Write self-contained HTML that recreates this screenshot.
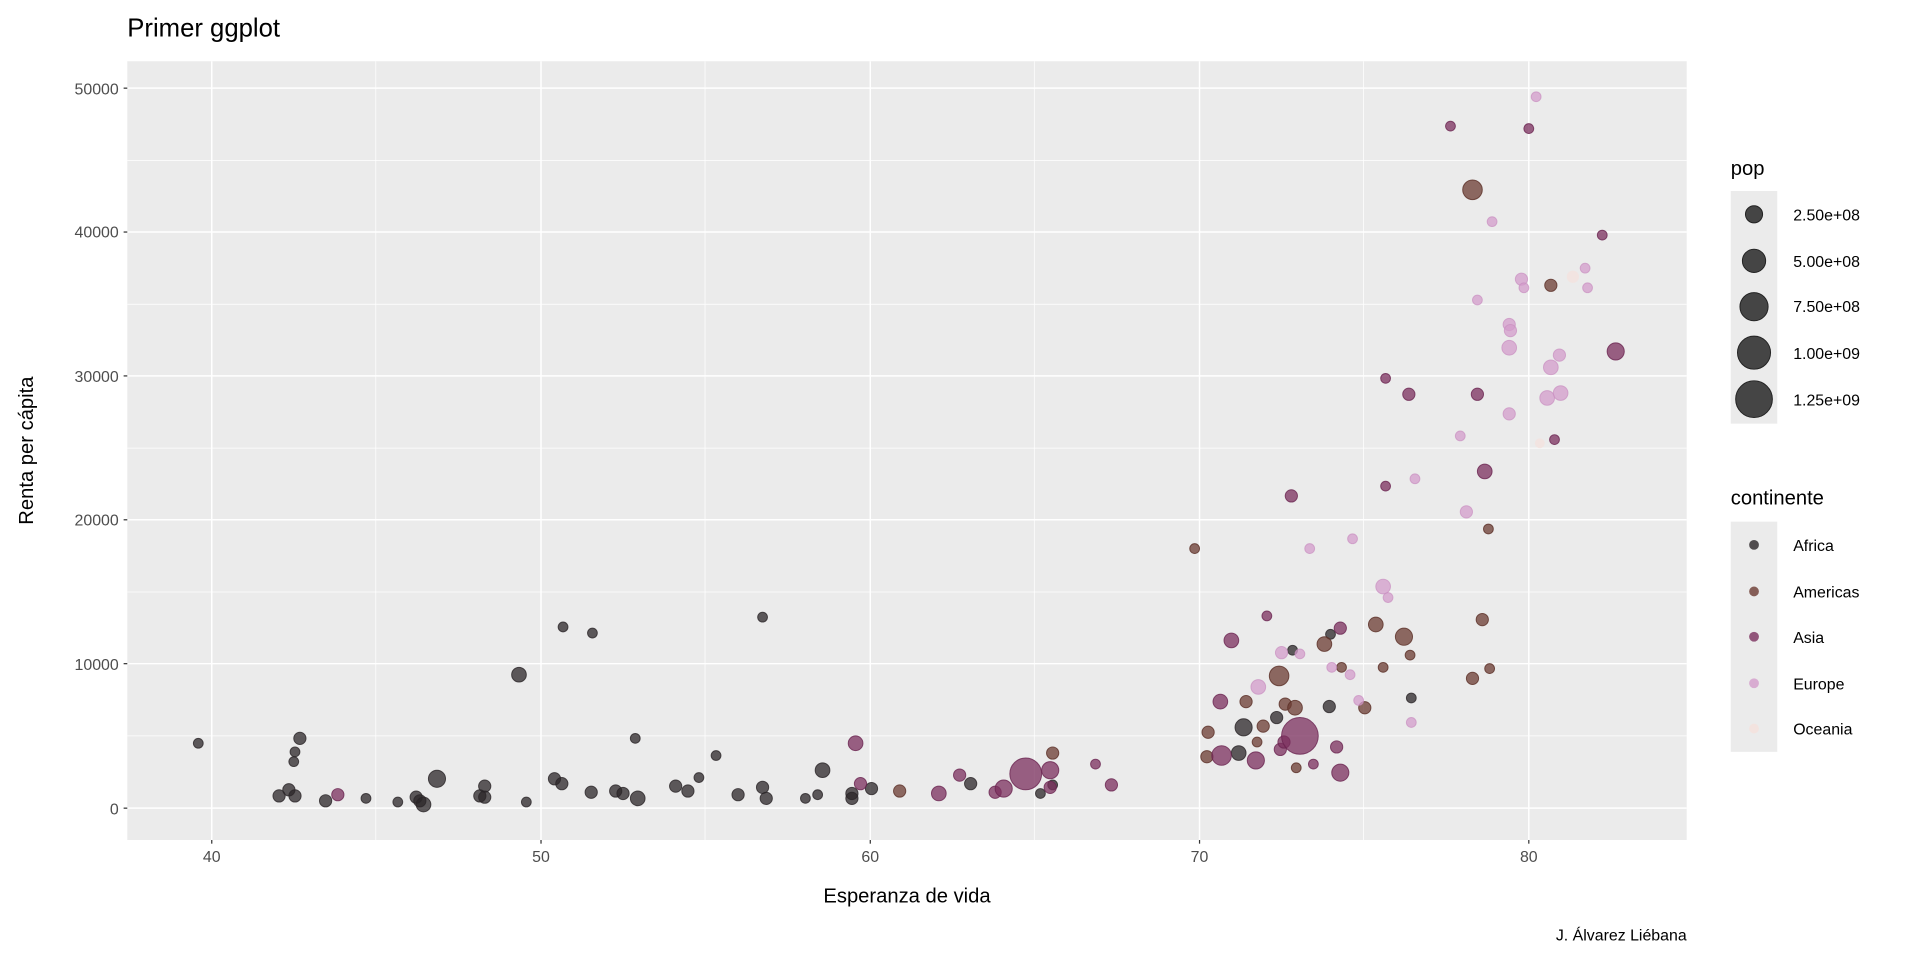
<!DOCTYPE html>
<html><head><meta charset="utf-8"><style>html,body{margin:0;padding:0;background:#fff}svg{display:block}text{font-family:"Liberation Sans",sans-serif}</style></head>
<body>
<svg width="1920" height="960" viewBox="0 0 1568.6 784" preserveAspectRatio="none" xmlns="http://www.w3.org/2000/svg">
<rect x="-5" y="0" width="1580" height="784" fill="#fff"/>
<text x="104" y="30" font-size="21" fill="#000">Primer ggplot</text>
<rect x="104" y="50" width="1274" height="636" fill="#ebebeb"/>
<g stroke="#fff" stroke-width="0.6">
<line x1="307" x2="307" y1="50" y2="686"/><line x1="576" x2="576" y1="50" y2="686"/><line x1="845" x2="845" y1="50" y2="686"/><line x1="1114" x2="1114" y1="50" y2="686"/>
<line x1="104" x2="1378" y1="131" y2="131"/><line x1="104" x2="1378" y1="248.5" y2="248.5"/><line x1="104" x2="1378" y1="366" y2="366"/><line x1="104" x2="1378" y1="483.5" y2="483.5"/><line x1="104" x2="1378" y1="601" y2="601"/>
</g>
<g stroke="#fff" stroke-width="1.2">
<line x1="173" x2="173" y1="50" y2="686"/><line x1="442" x2="442" y1="50" y2="686"/><line x1="711" x2="711" y1="50" y2="686"/><line x1="980" x2="980" y1="50" y2="686"/><line x1="1249" x2="1249" y1="50" y2="686"/>
<line x1="104" x2="1378" y1="72" y2="72"/><line x1="104" x2="1378" y1="189.5" y2="189.5"/><line x1="104" x2="1378" y1="307" y2="307"/><line x1="104" x2="1378" y1="424.5" y2="424.5"/><line x1="104" x2="1378" y1="542" y2="542"/><line x1="104" x2="1378" y1="660" y2="660"/>
</g>
<g stroke="#333" stroke-width="1">
<line x1="101" x2="104" y1="72" y2="72"/><line x1="101" x2="104" y1="189.5" y2="189.5"/><line x1="101" x2="104" y1="307" y2="307"/><line x1="101" x2="104" y1="424.5" y2="424.5"/><line x1="101" x2="104" y1="542" y2="542"/><line x1="101" x2="104" y1="660" y2="660"/>
<line x1="173" x2="173" y1="686" y2="689"/><line x1="442" x2="442" y1="686" y2="689"/><line x1="711" x2="711" y1="686" y2="689"/><line x1="980" x2="980" y1="686" y2="689"/><line x1="1249" x2="1249" y1="686" y2="689"/>
</g>
<g font-size="13" fill="#4d4d4d" text-anchor="end">
<text x="97" y="77">50000</text><text x="97" y="194">40000</text><text x="97" y="312">30000</text><text x="97" y="429">20000</text><text x="97" y="547">10000</text><text x="97" y="665">0</text>
</g>
<g font-size="13" fill="#4d4d4d" text-anchor="middle">
<text x="173" y="704">40</text><text x="442" y="704">50</text><text x="711" y="704">60</text><text x="980" y="704">70</text><text x="1249" y="704">80</text>
</g>
<text x="741" y="737" font-size="16.5" text-anchor="middle">Esperanza de vida</text>
<text transform="translate(27,368) rotate(-90)" font-size="16.5" text-anchor="middle">Renta per cápita</text>
<text x="1378" y="768" font-size="13" text-anchor="end">J. Álvarez Liébana</text>

<g fill="#2b2528" fill-opacity="0.75" stroke="#2b2528" stroke-opacity="0.8" stroke-width="0.8">
<circle cx="162" cy="607" r="4"/><circle cx="245" cy="603" r="5"/><circle cx="241" cy="614" r="4"/><circle cx="240" cy="622" r="4"/><circle cx="236" cy="645" r="5"/><circle cx="228" cy="650" r="5"/><circle cx="241" cy="650" r="5"/><circle cx="266" cy="654" r="5"/><circle cx="299" cy="652" r="4"/><circle cx="325" cy="655" r="4"/><circle cx="340" cy="651" r="5"/><circle cx="343" cy="654" r="5"/><circle cx="346" cy="657" r="6"/><circle cx="357" cy="636" r="7"/><circle cx="396" cy="642" r="5"/><circle cx="392" cy="650" r="5"/><circle cx="396" cy="651" r="5"/><circle cx="424" cy="551" r="6"/><circle cx="430" cy="655" r="4"/><circle cx="453" cy="636" r="5"/><circle cx="459" cy="640" r="5"/><circle cx="460" cy="512" r="4"/><circle cx="484" cy="517" r="4"/><circle cx="483" cy="647" r="5"/><circle cx="503" cy="646" r="5"/><circle cx="509" cy="648" r="5"/><circle cx="521" cy="652" r="6"/><circle cx="519" cy="603" r="4"/><circle cx="552" cy="642" r="5"/><circle cx="562" cy="646" r="5"/><circle cx="571" cy="635" r="4"/><circle cx="585" cy="617" r="4"/><circle cx="603" cy="649" r="5"/><circle cx="623" cy="504" r="4"/><circle cx="623" cy="643" r="5"/><circle cx="626" cy="652" r="5"/><circle cx="658" cy="652" r="4"/><circle cx="668" cy="649" r="4"/><circle cx="672" cy="629" r="6"/><circle cx="696" cy="648" r="5"/><circle cx="696" cy="652" r="5"/><circle cx="712" cy="644" r="5"/><circle cx="793" cy="640" r="5"/><circle cx="850" cy="648" r="4"/><circle cx="860" cy="641" r="4"/><circle cx="1016" cy="594" r="7"/><circle cx="1012" cy="615" r="6"/><circle cx="1043" cy="586" r="5"/><circle cx="1056" cy="531" r="4"/><circle cx="1087" cy="518" r="4"/><circle cx="1086" cy="577" r="5"/><circle cx="1153" cy="570" r="4"/>
</g>
<g fill="#6b3b32" fill-opacity="0.75" stroke="#5a2e26" stroke-opacity="0.8" stroke-width="0.8">
<circle cx="735" cy="646" r="5"/><circle cx="860" cy="615" r="5"/><circle cx="976" cy="448" r="4"/><circle cx="987" cy="598" r="5"/><circle cx="986" cy="618" r="5"/><circle cx="1032" cy="593" r="5"/><circle cx="1018" cy="573" r="5"/><circle cx="1027" cy="606" r="4"/><circle cx="1045" cy="552" r="8"/><circle cx="1050" cy="575" r="5"/><circle cx="1058" cy="578" r="6"/><circle cx="1059" cy="627" r="4"/><circle cx="1082" cy="526" r="6"/><circle cx="1115" cy="578" r="5"/><circle cx="1096" cy="545" r="4"/><circle cx="1124" cy="510" r="6"/><circle cx="1130" cy="545" r="4"/><circle cx="1147" cy="520" r="7"/><circle cx="1152" cy="535" r="4"/><circle cx="1203" cy="554" r="5"/><circle cx="1211" cy="506" r="5"/><circle cx="1203" cy="155" r="8"/><circle cx="1217" cy="546" r="4"/><circle cx="1216" cy="432" r="4"/><circle cx="1267" cy="233" r="5"/>
</g>
<g fill="#7b2f5e" fill-opacity="0.75" stroke="#6a2450" stroke-opacity="0.8" stroke-width="0.8">
<circle cx="276" cy="649" r="5"/><circle cx="699" cy="607" r="6"/><circle cx="703" cy="640" r="5"/><circle cx="767" cy="648" r="6"/><circle cx="784" cy="633" r="5"/><circle cx="813" cy="647" r="5"/><circle cx="820" cy="644" r="7"/><circle cx="838" cy="632" r="13"/><circle cx="858" cy="629" r="7"/><circle cx="858" cy="643" r="5"/><circle cx="895" cy="624" r="4"/><circle cx="908" cy="641" r="5"/><circle cx="1006" cy="523" r="6"/><circle cx="997" cy="573" r="6"/><circle cx="1026" cy="621" r="7"/><circle cx="998" cy="617" r="8"/><circle cx="1035" cy="503" r="4"/><circle cx="1046" cy="612" r="5"/><circle cx="1049" cy="606" r="5"/><circle cx="1055" cy="405" r="5"/><circle cx="1062" cy="601" r="15"/><circle cx="1073" cy="624" r="4"/><circle cx="1092" cy="610" r="5"/><circle cx="1095" cy="513" r="5"/><circle cx="1095" cy="631" r="7"/><circle cx="1132" cy="309" r="4"/><circle cx="1132" cy="397" r="4"/><circle cx="1151" cy="322" r="5"/><circle cx="1213" cy="385" r="6"/><circle cx="1185" cy="103" r="4"/><circle cx="1249" cy="105" r="4"/><circle cx="1270" cy="359" r="4"/><circle cx="1309" cy="192" r="4"/><circle cx="1320" cy="287" r="7"/><circle cx="1207" cy="322" r="5"/>
</g>
<g fill="#d39ccb" fill-opacity="0.75" stroke="#c98fc1" stroke-opacity="0.7" stroke-width="0.8">
<circle cx="1028" cy="561" r="6"/><circle cx="1047" cy="533" r="5"/><circle cx="1062" cy="534" r="4"/><circle cx="1088" cy="545" r="4"/><circle cx="1070" cy="448" r="4"/><circle cx="1103" cy="551" r="4"/><circle cx="1105" cy="440" r="4"/><circle cx="1110" cy="572" r="4"/><circle cx="1130" cy="479" r="6"/><circle cx="1134" cy="488" r="4"/><circle cx="1153" cy="590" r="4"/><circle cx="1156" cy="391" r="4"/><circle cx="1193" cy="356" r="4"/><circle cx="1198" cy="418" r="5"/><circle cx="1207" cy="245" r="4"/><circle cx="1233" cy="338" r="5"/><circle cx="1233" cy="265" r="5"/><circle cx="1234" cy="270" r="5"/><circle cx="1219" cy="181" r="4"/><circle cx="1243" cy="228" r="5"/><circle cx="1245" cy="235" r="4"/><circle cx="1255" cy="79" r="4"/><circle cx="1267" cy="300" r="6"/><circle cx="1264" cy="325" r="6"/><circle cx="1275" cy="321" r="6"/><circle cx="1274" cy="290" r="5"/><circle cx="1295" cy="219" r="4"/><circle cx="1297" cy="235" r="4"/><circle cx="1233" cy="284" r="6"/>
</g>
<g fill="#f4e2de" fill-opacity="0.8">
<circle cx="1258" cy="362" r="4"/><circle cx="1285" cy="226" r="5"/>
</g>

<text x="1414" y="143" font-size="16.5">pop</text>
<rect x="1414" y="156" width="38" height="190" fill="#ebebeb"/>
<g fill="#333" fill-opacity="0.9" stroke="#222" stroke-width="0.8">
<circle cx="1433" cy="175" r="7"/><circle cx="1433" cy="213" r="9.5"/><circle cx="1433" cy="250.5" r="11.5"/><circle cx="1433" cy="288" r="13.5"/><circle cx="1433" cy="326" r="15"/>
</g>
<g font-size="13" fill="#000">
<text x="1465" y="180">2.50e+08</text><text x="1465" y="218">5.00e+08</text><text x="1465" y="255">7.50e+08</text><text x="1465" y="293">1.00e+09</text><text x="1465" y="331">1.25e+09</text>
</g>
<text x="1414" y="412" font-size="16.5">continente</text>
<rect x="1414" y="426" width="38" height="188" fill="#ebebeb"/>
<circle cx="1433" cy="445" r="4" fill="#2b2528" fill-opacity="0.8"/>
<circle cx="1433" cy="483" r="4" fill="#6b3b32" fill-opacity="0.8"/>
<circle cx="1433" cy="520" r="4" fill="#7b2f5e" fill-opacity="0.8"/>
<circle cx="1433" cy="558" r="4" fill="#d39ccb" fill-opacity="0.8"/>
<circle cx="1433" cy="595" r="4" fill="#f4e2de" fill-opacity="0.9"/>
<g font-size="13" fill="#000">
<text x="1465" y="450">Africa</text><text x="1465" y="488">Americas</text><text x="1465" y="525">Asia</text><text x="1465" y="563">Europe</text><text x="1465" y="600">Oceania</text>
</g>
</svg>
</body></html>
